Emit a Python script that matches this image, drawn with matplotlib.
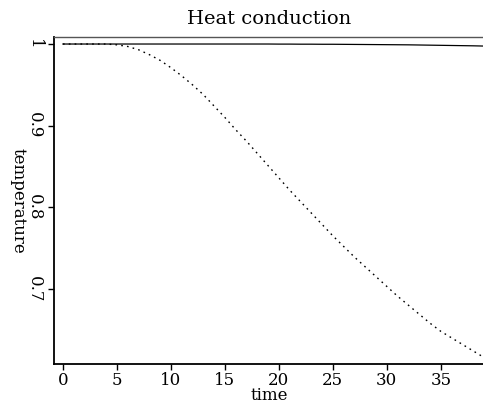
import matplotlib.pyplot as plt
import numpy as np

plt.rcParams['font.family'] = ['DejaVu Serif']

# time samples
time = np.arange(0, 40)
# dotted curve (temperature falling)
temp_fast = [1.000, 1.000, 1.000, 1.000, 1.000, 0.999, 0.997, 0.993, 0.987, 0.980,
             0.971, 0.961, 0.950, 0.938, 0.924, 0.910, 0.895, 0.881, 0.866, 0.851,
             0.836, 0.821, 0.807, 0.793, 0.779, 0.765, 0.752, 0.739, 0.727, 0.715,
             0.703, 0.691, 0.680, 0.669, 0.658, 0.648, 0.640, 0.632, 0.624, 0.616]
# solid curve (almost constant)
temp_slow = [1.0] * 20 + [0.9999, 0.9999, 0.9998, 0.9998, 0.9997, 0.9997, 0.9996,
                          0.9995, 0.9994, 0.9993, 0.9992, 0.9991, 0.9990, 0.9988,
                          0.9986, 0.9984, 0.9982, 0.9980, 0.9978, 0.9975]

xticks = [0, 5, 10, 15, 20, 25, 30, 35]
yticks = [1.0, 0.9, 0.8, 0.7]
ytick_labels = ["1", "0.9", "0.8", "0.7"]

fig = plt.figure(figsize=(4.83, 4.04), dpi=100)
ax = fig.add_axes([54 / 483, 1 - 364 / 404, 430 / 483, 327 / 404])

ax.plot(time, temp_slow, color="black", lw=0.9)
ax.plot(time, temp_fast, color="black", lw=1.0, linestyle=(0, (1.2, 3.0)))

ax.set_xlim(-0.83, 39)
ax.set_ylim(0.608, 1.0086)

ax.set_xticks(xticks)
ax.set_yticks(yticks)
ax.set_yticklabels(ytick_labels, rotation=-90, va="center")
ax.tick_params(axis="both", direction="out", length=4, width=1, labelsize=12)
ax.tick_params(axis="x", pad=1.5)
ax.tick_params(axis="y", pad=4)

for s in ["left", "bottom"]:
    ax.spines[s].set_linewidth(1.3)
ax.spines["top"].set_linewidth(1.0)
ax.spines["top"].set_color("#555555")
ax.spines["right"].set_visible(False)

ax.set_xlabel("time", fontsize=12, labelpad=-1)
ax.set_ylabel("temperature", fontsize=12, rotation=-90)
ax.yaxis.label.set_va("center")
ax.yaxis.set_label_coords((18 - 54) / 430, 0.5)
ax.set_title("Heat conduction", fontsize=14, pad=9)

fig.savefig("out.png", dpi=100)
